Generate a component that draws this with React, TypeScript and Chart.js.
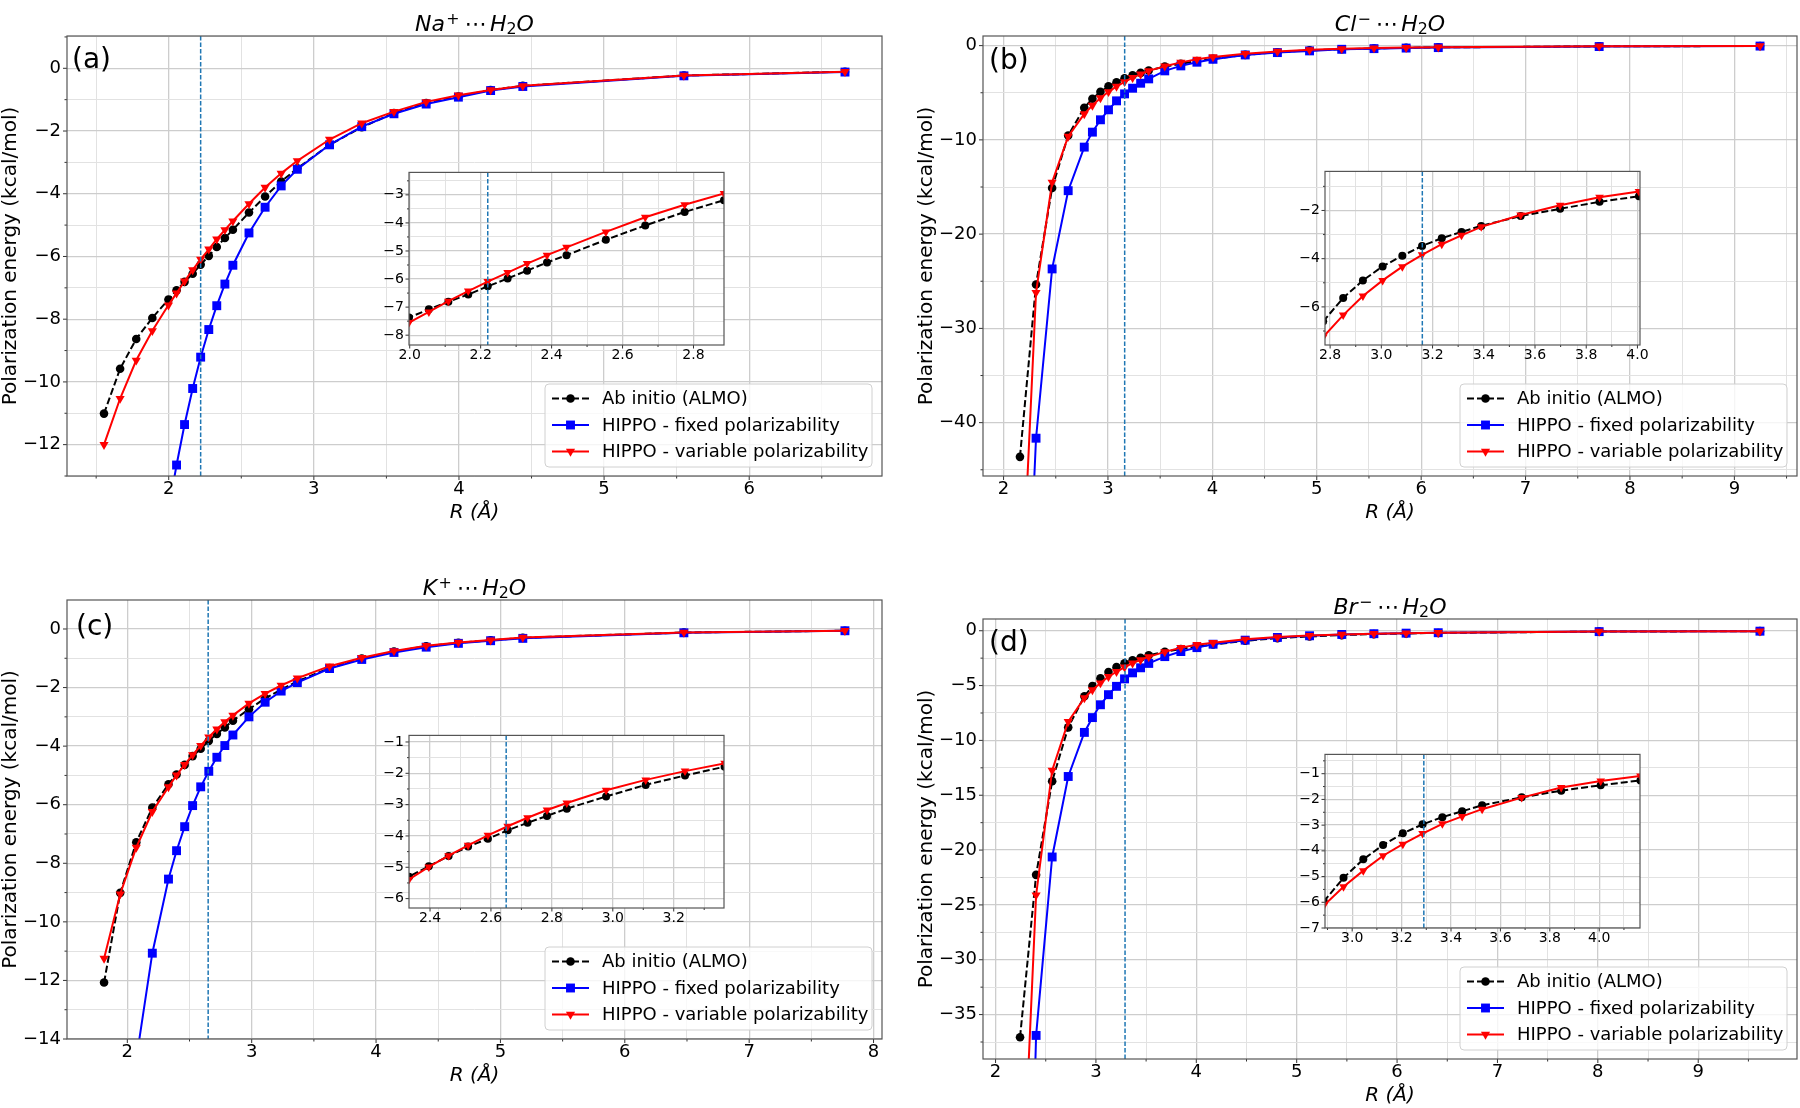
import React, { useEffect, useRef } from 'react';
import { Chart, registerables } from 'chart.js';

Chart.register(...registerables);

// ---------------- data (R in Å, energies in kcal/mol) ----------------
// (a) Na+ ... H2O
const NA_R = [1.554, 1.665, 1.776, 1.887, 1.998, 2.054, 2.109, 2.165, 2.22, 2.276, 2.331, 2.387, 2.442, 2.553, 2.664, 2.775, 2.886, 3.108, 3.33, 3.552, 3.774, 3.996, 4.218, 4.44, 5.55, 6.66];
const NA_ALMO = [-11.01, -9.58, -8.63, -7.96, -7.37, -7.08, -6.81, -6.55, -6.26, -5.98, -5.7, -5.41, -5.15, -4.6, -4.09, -3.61, -3.19, -2.44, -1.88, -1.43, -1.11, -0.9, -0.69, -0.56, -0.23, -0.11];
const NA_FIXED = [-36, -28, -22, -17.5, -14.1, -12.65, -11.36, -10.21, -9.21, -8.33, -7.57, -6.88, -6.28, -5.25, -4.43, -3.75, -3.22, -2.44, -1.86, -1.45, -1.14, -0.92, -0.71, -0.58, -0.24, -0.12];
const NA_VAR = [-12.0, -10.53, -9.31, -8.37, -7.55, -7.17, -6.79, -6.43, -6.09, -5.77, -5.45, -5.15, -4.87, -4.32, -3.8, -3.35, -2.95, -2.27, -1.75, -1.38, -1.07, -0.86, -0.69, -0.56, -0.23, -0.11];
const NA_VLINE = 2.22;

// (b) Cl- ... H2O
const CL_R = [2.157, 2.311, 2.465, 2.619, 2.773, 2.851, 2.928, 3.005, 3.082, 3.159, 3.236, 3.313, 3.39, 3.544, 3.698, 3.852, 4.006, 4.315, 4.623, 4.931, 5.239, 5.548, 5.856, 6.164, 7.705, 9.246];
const CL_ALMO = [-43.63, -25.34, -15.1, -9.53, -6.6, -5.63, -4.9, -4.32, -3.88, -3.47, -3.15, -2.89, -2.64, -2.23, -1.93, -1.64, -1.41, -0.98, -0.7, -0.5, -0.38, -0.3, -0.23, -0.19, -0.08, -0.04];
const CL_FIXED = [-80, -41.65, -23.69, -15.39, -10.77, -9.18, -7.87, -6.81, -5.86, -5.12, -4.52, -3.99, -3.53, -2.68, -2.15, -1.76, -1.45, -0.99, -0.74, -0.56, -0.39, -0.32, -0.26, -0.21, -0.1, -0.05];
const CL_VAR = [-63, -26.2, -14.5, -9.64, -7.25, -6.34, -5.55, -4.9, -4.33, -3.84, -3.4, -3.03, -2.68, -2.19, -1.78, -1.45, -1.21, -0.86, -0.62, -0.45, -0.34, -0.26, -0.21, -0.17, -0.07, -0.03];
const CL_VLINE = 3.16;

// (c) K+ ... H2O
const K_R = [1.813, 1.943, 2.072, 2.201, 2.331, 2.396, 2.461, 2.525, 2.59, 2.655, 2.72, 2.784, 2.849, 2.978, 3.108, 3.237, 3.367, 3.626, 3.885, 4.144, 4.403, 4.662, 4.921, 5.18, 6.475, 7.77];
const K_ALMO = [-12.07, -9.01, -7.28, -6.1, -5.3, -4.97, -4.64, -4.34, -4.09, -3.82, -3.58, -3.36, -3.13, -2.74, -2.37, -2.07, -1.79, -1.33, -1.01, -0.77, -0.59, -0.47, -0.39, -0.3, -0.12, -0.06];
const K_FIXED = [-26, -19.5, -14.7, -11.07, -8.54, -7.57, -6.75, -6.03, -5.39, -4.86, -4.38, -3.98, -3.62, -3.0, -2.5, -2.12, -1.83, -1.35, -1.04, -0.8, -0.62, -0.49, -0.4, -0.32, -0.13, -0.06];
const K_VAR = [-11.25, -9.05, -7.46, -6.24, -5.39, -4.99, -4.63, -4.3, -3.98, -3.69, -3.42, -3.17, -2.95, -2.54, -2.21, -1.93, -1.68, -1.27, -0.98, -0.75, -0.57, -0.46, -0.38, -0.29, -0.12, -0.06];
const K_VLINE = 2.65;

// (d) Br- ... H2O
const BR_R = [2.244, 2.404, 2.564, 2.724, 2.885, 2.965, 3.045, 3.125, 3.205, 3.285, 3.365, 3.445, 3.526, 3.686, 3.846, 4.006, 4.167, 4.487, 4.808, 5.128, 5.449, 5.769, 6.09, 6.41, 8.013, 9.615];
const BR_ALMO = [-37.06, -22.26, -13.72, -8.81, -5.97, -5.05, -4.33, -3.77, -3.32, -2.97, -2.69, -2.46, -2.23, -1.92, -1.66, -1.45, -1.26, -0.92, -0.68, -0.52, -0.4, -0.31, -0.25, -0.2, -0.08, -0.04];
const BR_FIXED = [-90, -36.9, -20.63, -13.29, -9.27, -7.92, -6.75, -5.83, -5.07, -4.39, -3.84, -3.38, -2.98, -2.36, -1.9, -1.54, -1.23, -0.86, -0.61, -0.46, -0.34, -0.27, -0.22, -0.18, -0.08, -0.04];
const BR_VAR = [-57, -24.1, -12.74, -8.29, -6.13, -5.4, -4.77, -4.19, -3.74, -3.33, -2.95, -2.66, -2.38, -1.93, -1.54, -1.28, -1.09, -0.78, -0.58, -0.44, -0.34, -0.27, -0.22, -0.18, -0.07, -0.04];
const BR_VLINE = 3.29;

// ---------------- tick labels ----------------
const A_X_MAJOR = [2, 3, 4, 5, 6];
const A_Y_MAJOR = [0, -2, -4, -6, -8, -10, -12];
const B_X_MAJOR = [2, 3, 4, 5, 6, 7, 8, 9];
const B_Y_MAJOR = [0, -10, -20, -30, -40];
const C_X_MAJOR = [2, 3, 4, 5, 6, 7, 8];
const C_Y_MAJOR = [0, -2, -4, -6, -8, -10, -12, -14];
const D_X_MAJOR = [2, 3, 4, 5, 6, 7, 8, 9];
const D_Y_MAJOR = [0, -5, -10, -15, -20, -25, -30, -35];
const AI_X_MAJOR = [2.0, 2.2, 2.4, 2.6, 2.8];
const AI_Y_MAJOR = [-8, -7, -6, -5, -4, -3];
const BI_X_MAJOR = [2.8, 3.0, 3.2, 3.4, 3.6, 3.8, 4.0];
const BI_Y_MAJOR = [-6, -4, -2];
const CI_X_MAJOR = [2.4, 2.6, 2.8, 3.0, 3.2];
const CI_Y_MAJOR = [-6, -5, -4, -3, -2, -1];
const DI_X_MAJOR = [3.0, 3.2, 3.4, 3.6, 3.8, 4.0];
const DI_Y_MAJOR = [-7, -6, -5, -4, -3, -2, -1];

// ---------------- texts ----------------
const LEGEND_LABELS = ['Ab initio (ALMO)', 'HIPPO - fixed polarizability', 'HIPPO - variable polarizability'];
const Y_LABEL = 'Polarization energy (kcal/mol)';
const X_LABEL = 'R (Å)';
type Seg = { t: string; it?: boolean; sup?: boolean; sub?: boolean };
const NA_TITLE: Seg[] = [{ t: 'Na', it: true }, { t: '+', sup: true }, { t: '⋯' }, { t: 'H', it: true }, { t: '2', sub: true }, { t: 'O', it: true }];
const CL_TITLE: Seg[] = [{ t: 'Cl', it: true }, { t: '\u2212', sup: true }, { t: '⋯' }, { t: 'H', it: true }, { t: '2', sub: true }, { t: 'O', it: true }];
const K_TITLE: Seg[] = [{ t: 'K', it: true }, { t: '+', sup: true }, { t: '⋯' }, { t: 'H', it: true }, { t: '2', sub: true }, { t: 'O', it: true }];
const BR_TITLE: Seg[] = [{ t: 'Br', it: true }, { t: '\u2212', sup: true }, { t: '⋯' }, { t: 'H', it: true }, { t: '2', sub: true }, { t: 'O', it: true }];

// ---------------- styling ----------------
const FONT = '"DejaVu Sans", sans-serif';
const C_ALMO = '#000000';
const C_FIXED = '#0000ff';
const C_VAR = '#ff0000';
const C_VLINE = '#1f77b4';

interface Spec {
  kind: 'main' | 'inset';
  frame: number[];
  r: number[];
  almo: number[];
  fixed?: number[];
  vari: number[];
  xlim: number[];
  ylim: number[];
  xMajor: number[];
  xStep: number;
  yMajor: number[];
  yStep: number;
  xDec: number;
  vline: number;
  title?: Seg[];
  tag?: string;
  tagDx?: number;
  tagDy?: number;
}

const GEOM: any = {
  main: { yw: 70, pt: 40, pr: 10, xh: 55 },
  inset: { yw: 40, pt: 12, pr: 14, xh: 28 },
};

const SPECS: Spec[] = [
  { kind: 'main', frame: [67, 36, 882, 476], r: NA_R, almo: NA_ALMO, fixed: NA_FIXED, vari: NA_VAR, xlim: [1.299, 6.915], ylim: [-13, 1.03], xMajor: A_X_MAJOR, xStep: 0.5, yMajor: A_Y_MAJOR, yStep: 1, xDec: 0, vline: NA_VLINE, title: NA_TITLE, tag: '(a)', tagDx: 5, tagDy: 25 },
  { kind: 'main', frame: [983, 36, 1797, 476], r: CL_R, almo: CL_ALMO, fixed: CL_FIXED, vari: CL_VAR, xlim: [1.803, 9.6], ylim: [-45.66, 1.02], xMajor: B_X_MAJOR, xStep: 0.5, yMajor: B_Y_MAJOR, yStep: 5, xDec: 0, vline: CL_VLINE, title: CL_TITLE, tag: '(b)', tagDx: 6, tagDy: 26 },
  { kind: 'main', frame: [67, 600, 882, 1039], r: K_R, almo: K_ALMO, fixed: K_FIXED, vari: K_VAR, xlim: [1.515, 8.068], ylim: [-14, 0.99], xMajor: C_X_MAJOR, xStep: 0.5, yMajor: C_Y_MAJOR, yStep: 1, xDec: 0, vline: K_VLINE, title: K_TITLE, tag: '(c)', tagDx: 9, tagDy: 28 },
  { kind: 'main', frame: [983, 619, 1797, 1059], r: BR_R, almo: BR_ALMO, fixed: BR_FIXED, vari: BR_VAR, xlim: [1.875, 9.984], ylim: [-39.05, 1.07], xMajor: D_X_MAJOR, xStep: 0.5, yMajor: D_Y_MAJOR, yStep: 2.5, xDec: 0, vline: BR_VLINE, title: BR_TITLE, tag: '(d)', tagDx: 6, tagDy: 25 },
  { kind: 'inset', frame: [409, 171, 724, 345], r: NA_R, almo: NA_ALMO, vari: NA_VAR, xlim: [1.998, 2.886], ylim: [-8.35, -2.2], xMajor: AI_X_MAJOR, xStep: 0.1, yMajor: AI_Y_MAJOR, yStep: 0.5, xDec: 1, vline: NA_VLINE },
  { kind: 'inset', frame: [1325, 170, 1640, 345], r: CL_R, almo: CL_ALMO, vari: CL_VAR, xlim: [2.78, 4.01], ylim: [-7.58, -0.38], xMajor: BI_X_MAJOR, xStep: 0.1, yMajor: BI_Y_MAJOR, yStep: 1, xDec: 1, vline: CL_VLINE },
  { kind: 'inset', frame: [409, 734, 724, 908], r: K_R, almo: K_ALMO, vari: K_VAR, xlim: [2.331, 3.365], ylim: [-6.3, -0.79], xMajor: CI_X_MAJOR, xStep: 0.1, yMajor: CI_Y_MAJOR, yStep: 0.5, xDec: 1, vline: K_VLINE },
  { kind: 'inset', frame: [1325, 753, 1640, 928], r: BR_R, almo: BR_ALMO, vari: BR_VAR, xlim: [2.89, 4.165], ylim: [-7.0, -0.25], xMajor: DI_X_MAJOR, xStep: 0.1, yMajor: DI_Y_MAJOR, yStep: 0.5, xDec: 1, vline: BR_VLINE },
];

// ---------------- helpers ----------------
function near(v: number, list: number[]) {
  return list.some((m) => Math.abs(m - v) < 1e-6);
}
function tickValues(lo: number, hi: number, step: number) {
  const out: number[] = [];
  for (let k = Math.ceil(lo / step - 1e-6); k * step <= hi + 1e-6; k++) {
    out.push(Math.round(k * step * 1e6) / 1e6);
  }
  return out;
}
function fmt(v: number, dec: number) {
  const s = Math.abs(v).toFixed(dec);
  return (v < -1e-9 ? '\u2212' : '') + s;
}

function drawMarker(ctx: CanvasRenderingContext2D, kind: string, x: number, y: number, r: number, color: string) {
  ctx.save();
  ctx.fillStyle = color;
  ctx.beginPath();
  if (kind === 'circle') {
    ctx.arc(x, y, r, 0, Math.PI * 2);
  } else if (kind === 'rect') {
    const s = r * Math.SQRT1_2;
    ctx.rect(x - s, y - s, 2 * s, 2 * s);
  } else {
    ctx.moveTo(x, y + r);
    ctx.lineTo(x - r * Math.sin(Math.PI / 3), y - r / 2);
    ctx.lineTo(x + r * Math.sin(Math.PI / 3), y - r / 2);
    ctx.closePath();
  }
  ctx.fill();
  ctx.restore();
}

function drawMath(ctx: CanvasRenderingContext2D, segs: Seg[], cx: number, base: number, size: number) {
  const parts = segs.map((s) => {
    const fs = s.sup || s.sub ? size * 0.72 : size;
    const font = `${s.it ? 'italic ' : ''}${fs}px ${FONT}`;
    ctx.font = font;
    const gap = s.t === '⋯' ? size * 0.16 : s.sup ? size * 0.06 : 0;
    return { s, font, w: ctx.measureText(s.t).width, gap, dy: s.sup ? -size * 0.3 : s.sub ? size * 0.14 : 0 };
  });
  const total = parts.reduce((a, p) => a + p.w + 2 * p.gap, 0);
  let xx = cx - total / 2;
  ctx.textAlign = 'left';
  ctx.textBaseline = 'alphabetic';
  ctx.fillStyle = '#000';
  for (const p of parts) {
    xx += p.gap;
    ctx.font = p.font;
    ctx.fillText(p.s.t, xx, base + p.dy);
    xx += p.w + p.gap;
  }
}

function drawLegend(ctx: CanvasRenderingContext2D, a: any) {
  const w = 327;
  const h = 83;
  const x0 = a.right - 10 - w;
  const y0 = a.bottom - 9 - h;
  ctx.save();
  ctx.beginPath();
  const rr = 4;
  ctx.moveTo(x0 + rr, y0);
  ctx.arcTo(x0 + w, y0, x0 + w, y0 + h, rr);
  ctx.arcTo(x0 + w, y0 + h, x0, y0 + h, rr);
  ctx.arcTo(x0, y0 + h, x0, y0, rr);
  ctx.arcTo(x0, y0, x0 + w, y0, rr);
  ctx.closePath();
  ctx.fillStyle = 'rgba(255,255,255,0.8)';
  ctx.fill();
  ctx.strokeStyle = '#d0d0d0';
  ctx.lineWidth = 1;
  ctx.stroke();
  const rows = [
    { c: C_ALMO, dash: [7, 3], m: 'circle', r: 4.3 },
    { c: C_FIXED, dash: [], m: 'rect', r: 6.3 },
    { c: C_VAR, dash: [], m: 'tri', r: 5.3 },
  ];
  rows.forEach((row, i) => {
    const cy = y0 + 14.5 + i * 26.5;
    ctx.save();
    ctx.strokeStyle = row.c;
    ctx.lineWidth = 2;
    ctx.setLineDash(row.dash);
    ctx.beginPath();
    ctx.moveTo(x0 + 7, cy);
    ctx.lineTo(x0 + 44, cy);
    ctx.stroke();
    ctx.restore();
    drawMarker(ctx, row.m, x0 + 25.5, cy, row.r, row.c);
    ctx.fillStyle = '#000';
    ctx.font = `18px ${FONT}`;
    ctx.textAlign = 'left';
    ctx.textBaseline = 'middle';
    ctx.fillText(LEGEND_LABELS[i], x0 + 57, cy + 1);
  });
  ctx.restore();
}

function buildConfig(spec: Spec): any {
  const inset = spec.kind === 'inset';
  const g = GEOM[spec.kind];
  const mk = (ys: number[]) => spec.r.map((x, i) => ({ x, y: ys[i] }));
  const datasets: any[] = [
    {
      label: LEGEND_LABELS[2],
      data: mk(spec.vari),
      borderColor: C_VAR,
      backgroundColor: C_VAR,
      pointBackgroundColor: C_VAR,
      pointStyle: 'triangle',
      pointRotation: 180,
      pointRadius: inset ? 5 : 5.3,
      pointHoverRadius: inset ? 5 : 5.3,
      pointBorderWidth: 0,
      borderWidth: 2,
      showLine: true,
      order: 0,
      clip: 0,
    },
  ];
  if (spec.fixed) {
    datasets.push({
      label: LEGEND_LABELS[1],
      data: mk(spec.fixed),
      borderColor: C_FIXED,
      backgroundColor: C_FIXED,
      pointBackgroundColor: C_FIXED,
      pointStyle: 'rect',
      pointRadius: 6.3,
      pointHoverRadius: 6.3,
      pointBorderWidth: 0,
      borderWidth: 2,
      showLine: true,
      order: 1,
      clip: 0,
    });
  }
  datasets.push({
    label: LEGEND_LABELS[0],
    data: mk(spec.almo),
    borderColor: C_ALMO,
    backgroundColor: C_ALMO,
    pointBackgroundColor: C_ALMO,
    pointStyle: 'circle',
    pointRadius: inset ? 4 : 4.3,
    pointHoverRadius: inset ? 4 : 4.3,
    pointBorderWidth: 0,
    borderWidth: 2,
    borderDash: [7, 3],
    showLine: true,
    order: 2,
    clip: 0,
  });

  const axis = (isX: boolean) => {
    const lo = isX ? spec.xlim[0] : spec.ylim[0];
    const hi = isX ? spec.xlim[1] : spec.ylim[1];
    const step = isX ? spec.xStep : spec.yStep;
    const major = isX ? spec.xMajor : spec.yMajor;
    const dec = isX ? spec.xDec : 0;
    return {
      type: 'linear',
      position: isX ? 'bottom' : 'left',
      min: lo,
      max: hi,
      bounds: 'data',
      afterBuildTicks: (s: any) => {
        s.ticks = tickValues(lo, hi, step).map((v) => ({ value: v }));
      },
      afterFit: (s: any) => {
        if (isX) s.height = g.xh;
        else s.width = g.yw;
      },
      border: { display: false },
      grid: {
        drawTicks: false,
        color: (c: any) => (c.tick && near(c.tick.value, major) ? '#cdcdcd' : '#e2e2e2'),
        lineWidth: (c: any) => (c.tick && near(c.tick.value, major) ? 1.3 : 1),
      },
      ticks: {
        autoSkip: false,
        maxRotation: 0,
        minRotation: 0,
        padding: isX ? (inset ? 2 : 3) : inset ? 5 : 6,
        color: '#000',
        font: { family: FONT, size: inset ? 14 : 18 },
        callback: (v: number) => (near(v, major) ? fmt(v, dec) : ''),
      },
    };
  };

  const decor = {
    id: 'decor',
    beforeDraw(chart: any) {
      if (!inset) return;
      const a = chart.chartArea;
      const ctx = chart.ctx;
      ctx.save();
      ctx.fillStyle = '#ffffff';
      ctx.fillRect(a.left, a.top, a.right - a.left, a.bottom - a.top);
      ctx.restore();
    },
    afterDatasetsDraw(chart: any) {
      const ctx: CanvasRenderingContext2D = chart.ctx;
      const a = chart.chartArea;
      const xs = chart.scales.x;
      const ys = chart.scales.y;
      // vertical dashed reference line
      ctx.save();
      ctx.beginPath();
      ctx.rect(a.left, a.top, a.right - a.left, a.bottom - a.top);
      ctx.clip();
      const px = xs.getPixelForValue(spec.vline);
      ctx.strokeStyle = C_VLINE;
      ctx.lineWidth = 1.5;
      ctx.setLineDash([4.5, 2]);
      ctx.beginPath();
      ctx.moveTo(px, a.top);
      ctx.lineTo(px, a.bottom);
      ctx.stroke();
      ctx.restore();
      // tick marks
      ctx.save();
      ctx.strokeStyle = '#333';
      ctx.lineWidth = 1;
      const mj = inset ? 3.5 : 4;
      const mn = inset ? 2 : 2.5;
      for (const t of xs.ticks) {
        const p = xs.getPixelForValue(t.value);
        const len = near(t.value, spec.xMajor) ? mj : mn;
        ctx.beginPath();
        ctx.moveTo(p, a.bottom);
        ctx.lineTo(p, a.bottom + len);
        ctx.stroke();
      }
      for (const t of ys.ticks) {
        const p = ys.getPixelForValue(t.value);
        const len = near(t.value, spec.yMajor) ? mj : mn;
        ctx.beginPath();
        ctx.moveTo(a.left - len, p);
        ctx.lineTo(a.left, p);
        ctx.stroke();
      }
      // frame
      ctx.strokeStyle = '#555';
      ctx.lineWidth = 1.2;
      ctx.strokeRect(a.left, a.top, a.right - a.left, a.bottom - a.top);
      ctx.restore();
    },
    afterDraw(chart: any) {
      if (inset) return;
      const ctx: CanvasRenderingContext2D = chart.ctx;
      const a = chart.chartArea;
      const mx = (a.left + a.right) / 2;
      const my = (a.top + a.bottom) / 2;
      ctx.save();
      // title
      if (spec.title) drawMath(ctx, spec.title, mx, a.top - 5, 22);
      // y label
      ctx.save();
      ctx.translate(a.left - 56, my);
      ctx.rotate(-Math.PI / 2);
      ctx.font = `20px ${FONT}`;
      ctx.fillStyle = '#000';
      ctx.textAlign = 'center';
      ctx.textBaseline = 'middle';
      ctx.fillText(Y_LABEL, 0, 0);
      ctx.restore();
      // x label
      ctx.font = `italic 20px ${FONT}`;
      ctx.fillStyle = '#000';
      ctx.textAlign = 'center';
      ctx.textBaseline = 'middle';
      ctx.fillText(X_LABEL, mx, a.bottom + 37);
      // panel tag
      if (spec.tag) {
        ctx.font = `28px ${FONT}`;
        ctx.textAlign = 'left';
        ctx.textBaseline = 'middle';
        ctx.fillText(spec.tag, a.left + (spec.tagDx || 6), a.top + (spec.tagDy || 25));
      }
      drawLegend(ctx, a);
      ctx.restore();
    },
  };

  return {
    type: 'scatter',
    data: { datasets },
    options: {
      responsive: false,
      maintainAspectRatio: false,
      animation: false,
      devicePixelRatio: 1,
      events: [],
      layout: { padding: { left: 0, top: g.pt, right: g.pr, bottom: 0 } },
      plugins: { legend: { display: false }, tooltip: { enabled: false }, title: { display: false } },
      scales: { x: axis(true), y: axis(false) },
    },
    plugins: [decor],
  };
}

function PanelChart({ spec }: { spec: Spec }) {
  const ref = useRef<HTMLCanvasElement>(null);
  const g = GEOM[spec.kind];
  const [L, T, R, B] = spec.frame;
  const w = g.yw + (R - L) + g.pr;
  const h = g.pt + (B - T) + g.xh;
  useEffect(() => {
    if (!ref.current) return;
    const chart = new Chart(ref.current, buildConfig(spec));
    return () => chart.destroy();
  }, [spec]);
  return (
    <canvas
      ref={ref}
      width={w}
      height={h}
      style={{ position: 'absolute', left: L - g.yw, top: T - g.pt, width: w, height: h }}
    />
  );
}

export default function App() {
  return (
    <div style={{ position: 'absolute', left: 0, top: 0, width: 1800, height: 1108, overflow: 'hidden', background: '#ffffff' }}>
      {SPECS.map((s, i) => (
        <PanelChart key={i} spec={s} />
      ))}
    </div>
  );
}
